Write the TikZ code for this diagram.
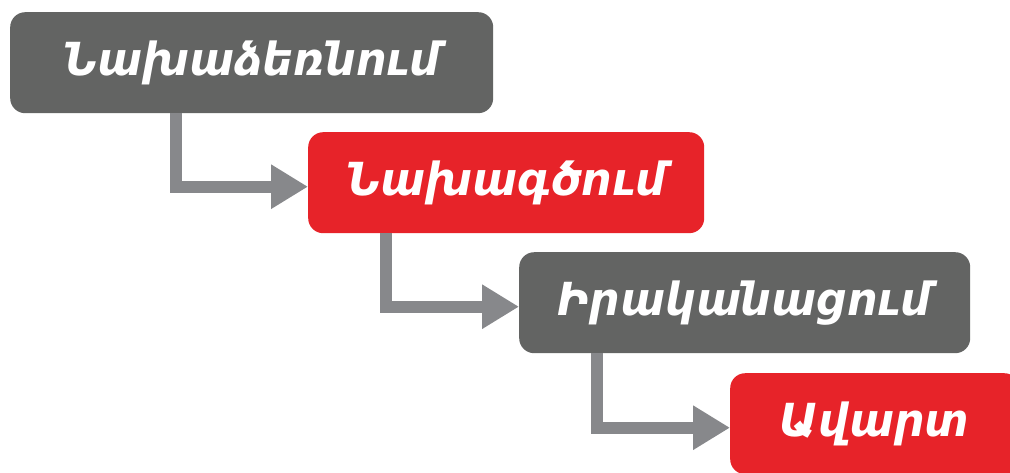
\documentclass[tikz,border=0pt]{standalone}
\usepackage{fontspec}
\newfontfamily\armfont[Script=Armenian]{DejaVu Sans}
\usetikzlibrary{arrows.meta}
\definecolor{boxgray}{RGB}{99,100,99}
\definecolor{boxred}{RGB}{231,35,41}
\definecolor{linkgray}{RGB}{135,136,139}
\tikzset{
  stage/.style={rectangle, rounded corners=15pt, inner sep=0pt, anchor=north west,
    minimum height=101pt, text=white,
    font=\armfont\bfseries\itshape\fontsize{43}{50}\selectfont},
  graystage/.style={stage, fill=boxgray},
  redstage/.style={stage, fill=boxred},
  link/.style={draw=linkgray, line width=12pt,
    -{Triangle[length=37pt,width=42pt]}}
}
\begin{document}
\begin{tikzpicture}[x=1pt,y=-1pt]
\useasboundingbox (0,0) rectangle (1010,472);
\clip (0,0) rectangle (1010,472);
\node[graystage, minimum width=483pt] (s1) at (10,12) {\scalebox{1}[1.06]{Նախաձեռնում}};
\node[redstage, minimum width=396pt] (s2) at (308,132) {\scalebox{1}[1.06]{Նախագծում}};
\node[graystage, minimum width=451pt] (s3) at (519,252) {\scalebox{1}[1.06]{Իրականացում}};
\node[redstage, minimum width=289pt] (s4) at (730,373) {\scalebox{1}[1.06]{Ավարտ}};
\coordinate (k1) at (175.5,0);
\coordinate (k2) at (386,0);
\coordinate (k3) at (597,0);
\draw[link] (s1.south -| k1) |- ([yshift=-4pt]s2.west);
\draw[link] (s2.south -| k2) |- ([yshift=-4pt]s3.west);
\draw[link] (s3.south -| k3) |- ([yshift=-4pt]s4.west);
\end{tikzpicture}
\end{document}
